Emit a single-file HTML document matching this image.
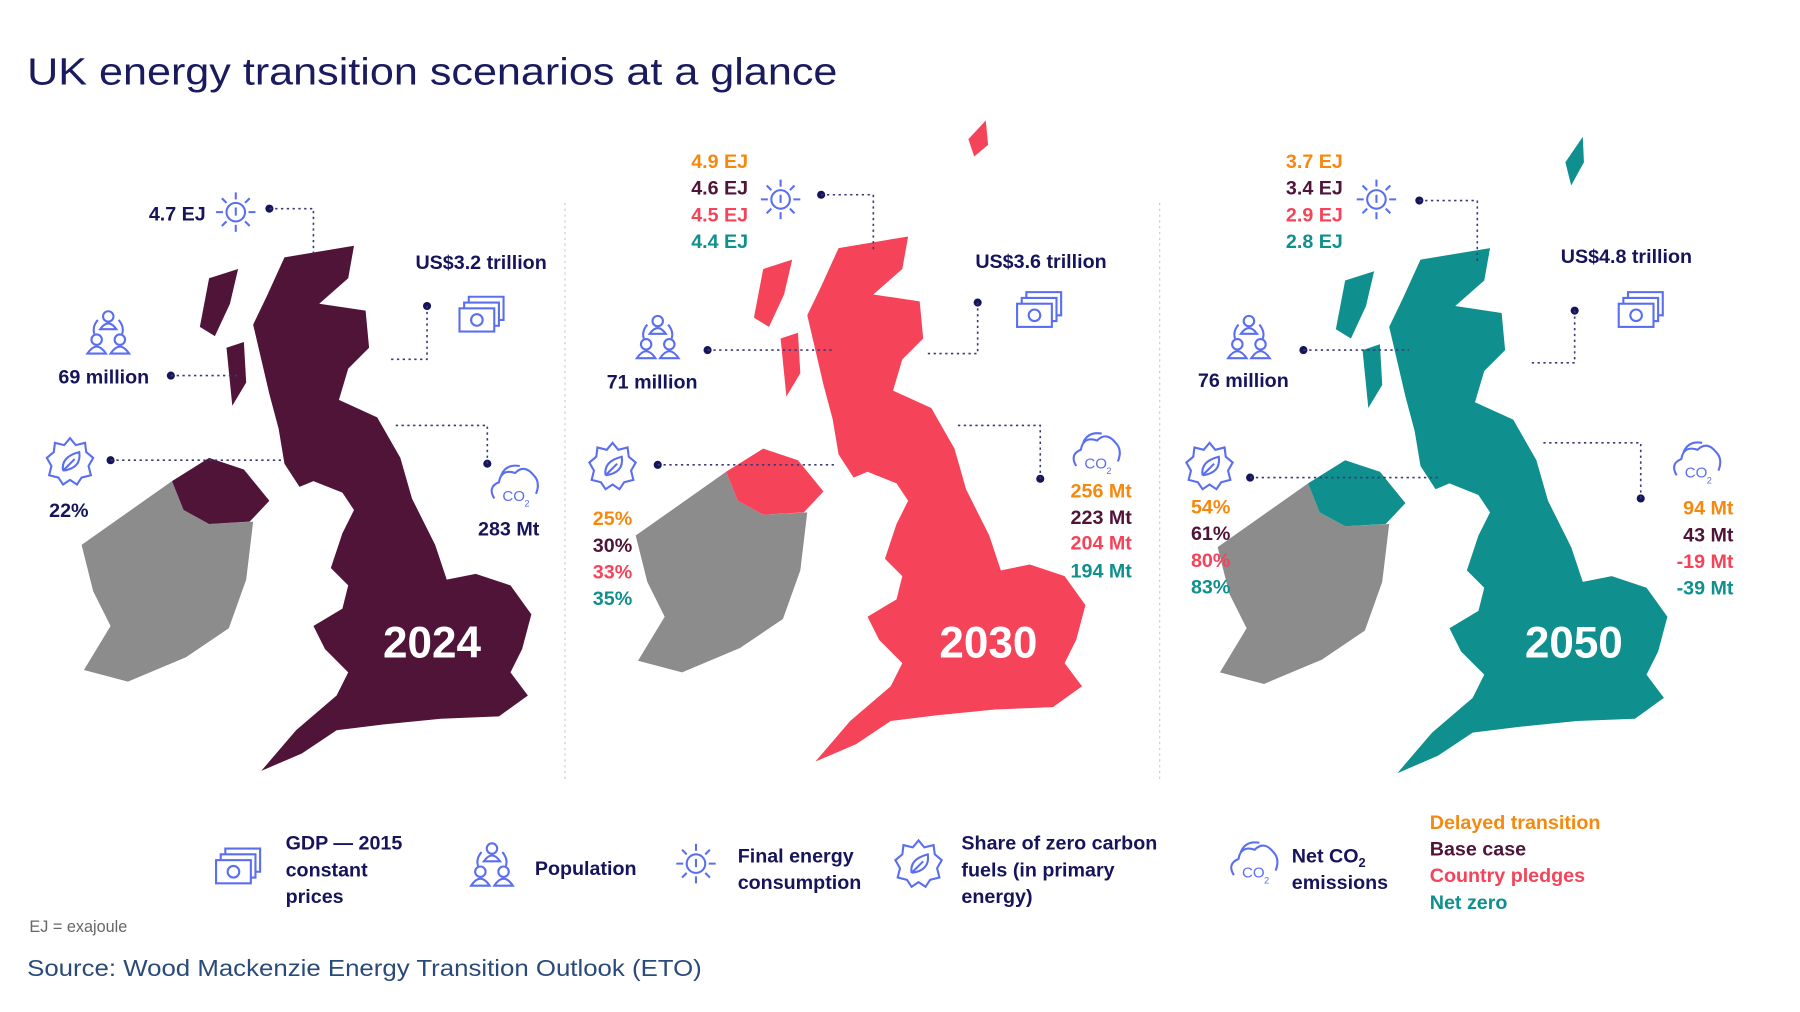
<!DOCTYPE html>
<html><head><meta charset="utf-8"><style>
html,body{margin:0;padding:0;background:#fff;}
svg{display:block;}
text{font-family:"Liberation Sans",sans-serif;}
.b{font-weight:bold;font-size:17px;fill:#16145a;}
.o{fill:#f5890f}.m{fill:#4f1438}.p{fill:#f5445a}.t{fill:#0f8f8e}
.ic{fill:none;stroke:#5a6ef0;stroke-width:1.8;}
.ln{fill:none;stroke:#3a3a7a;stroke-width:1.4;stroke-dasharray:2 3;}
</style></head><body>
<svg width="1800" height="1012" viewBox="0 0 1552 873">
<defs>
<g id="gb">
<path d="M245,222 L305,212 L300,240 L275,262 L315,268 L318,300 L300,318 L292,345 L325,360 L345,395 L355,430 L375,470 L385,500 L410,495 L440,505 L458,530 L450,560 L440,580 L455,600 L430,618 L380,620 L330,625 L290,630 L260,650 L225,665 L255,630 L290,600 L300,580 L280,560 L270,540 L295,525 L300,505 L285,490 L295,460 L305,440 L295,425 L270,415 L258,420 L245,400 L240,370 L232,340 L225,310 L218,280 L230,255 Z"/>
<path d="M148,415 L180,395 L210,405 L232,432 L215,450 L180,452 L158,440 Z"/>
<path d="M180,240 L205,232 L198,262 L185,290 L172,282 Z"/>
<path d="M195,300 L210,295 L212,330 L200,350 Z"/>
</g>
<path id="ie" d="M70,470 L148,415 L158,440 L180,452 L218,450 L212,500 L197,542 L160,567 L110,588 L72,578 L95,540 L80,510 Z"/>
<g id="sun"><circle cx="0" cy="0" r="8" class="ic"/><path class="ic" d="M0,-11V-17M0,11V17M-11,0H-17M11,0H17M8,-8L12,-12M-8,-8L-12,-12M8,8L12,12M-8,8L-12,12M0,-4V3"/></g>
<g id="money"><rect x="-14" y="-6" width="30" height="20" class="ic"/><path class="ic" d="M-10,-6V-11H20V9H16M-6,-11V-16H24V4H20"/><circle cx="1" cy="4" r="5" class="ic"/></g>
<g id="pop"><circle cx="0" cy="-15" r="4.5" class="ic"/><path class="ic" d="M-7,-4 Q0,-14 7,-4Z"/><circle cx="-10" cy="5" r="4.5" class="ic"/><circle cx="10" cy="5" r="4.5" class="ic"/><path class="ic" d="M-18,17 Q-10,5 -2,17Z M2,17 Q10,5 18,17Z M-9,-12 Q-14,-6 -12,0 M9,-12 Q14,-6 12,0"/></g>
<g id="gear"><path class="ic" d="M0,-20 L5,-14 L13,-16 L14,-8 L20,-3 L16,4 L18,12 L10,14 L6,20 L0,16 L-6,20 L-10,14 L-18,12 L-16,4 L-20,-3 L-14,-8 L-13,-16 L-5,-14 Z"/><path class="ic" d="M-6,8 Q-8,-4 8,-8 Q10,6 -6,8 M-6,8 L4,-2"/></g>
<g id="cloud"><path class="ic" d="M-16,10 Q-22,0 -12,-4 Q-10,-16 2,-12 Q10,-20 18,-10 Q24,-4 20,6"/><path class="ic" d="M-10,-10 Q-6,-20 6,-18"/><text x="-9" y="12" font-size="13" fill="#5a6ef0">CO</text><text x="10" y="17" font-size="8" fill="#5a6ef0">2</text></g>
</defs>

<text x="23" y="73" font-size="33" fill="#1a1a5e" textLength="699" lengthAdjust="spacingAndGlyphs">UK energy transition scenarios at a glance</text>

<line x1="487" y1="175" x2="487" y2="672" stroke="#ccc" stroke-dasharray="2 3"/>
<line x1="1000" y1="175" x2="1000" y2="672" stroke="#ccc" stroke-dasharray="2 3"/>

<g>
<use href="#ie" fill="#8c8c8c"/>
<use href="#gb" fill="#4f1438"/>
<text x="330" y="567" font-size="38" font-weight="bold" fill="#fff">2024</text>
<text x="128" y="190" class="b">4.7 EJ</text><use href="#sun" x="203" y="183"/>
<circle cx="232" cy="180" r="3.5" fill="#16145a"/><path class="ln" d="M232,180H270V222"/>
<text x="358" y="232" class="b">US$3.2 trillion</text><use href="#money" x="410" y="272"/>
<circle cx="368" cy="264" r="3.5" fill="#16145a"/><path class="ln" d="M368,264V310H335"/>
<use href="#pop" x="93" y="288"/><text x="50" y="331" class="b">69 million</text>
<circle cx="147" cy="324" r="3.5" fill="#16145a"/><path class="ln" d="M147,324H205"/>
<use href="#gear" x="60" y="398"/><circle cx="95" cy="397" r="3.5" fill="#16145a"/><path class="ln" d="M95,397H245"/>
<text x="42" y="446" class="b">22%</text>
<use href="#cloud" x="442" y="420"/><circle cx="420" cy="400" r="3.5" fill="#16145a"/><path class="ln" d="M420,400V367H340"/>
<text x="412" y="462" class="b">283 Mt</text>
</g>

<g>
<use href="#ie" x="478" y="-8" fill="#8c8c8c"/>
<use href="#gb" x="478" y="-8" fill="#f5445a"/>
<path d="M835,120 L850,104 L852,125 L840,135 Z" fill="#f5445a"/>
<text x="810" y="567" font-size="38" font-weight="bold" fill="#fff">2030</text>
<text x="645" y="145" text-anchor="end" class="b o">4.9 EJ</text>
<text x="645" y="168" text-anchor="end" class="b m">4.6 EJ</text>
<text x="645" y="191" text-anchor="end" class="b p">4.5 EJ</text>
<text x="645" y="214" text-anchor="end" class="b t">4.4 EJ</text>
<use href="#sun" x="673" y="172"/><circle cx="708" cy="168" r="3.5" fill="#16145a"/><path class="ln" d="M708,168H753V215"/>
<text x="841" y="231" class="b">US$3.6 trillion</text><use href="#money" x="891" y="268"/>
<circle cx="843" cy="261" r="3.5" fill="#16145a"/><path class="ln" d="M843,261V305H800"/>
<use href="#pop" x="567" y="292"/><text x="523" y="335" class="b">71 million</text>
<circle cx="610" cy="302" r="3.5" fill="#16145a"/><path class="ln" d="M610,302H720"/>
<use href="#gear" x="528" y="402"/><circle cx="567" cy="401" r="3.5" fill="#16145a"/><path class="ln" d="M567,401H720"/>
<text x="511" y="453" class="b o">25%</text><text x="511" y="476" class="b m">30%</text>
<text x="511" y="499" class="b p">33%</text><text x="511" y="522" class="b t">35%</text>
<use href="#cloud" x="944" y="392"/><circle cx="897" cy="413" r="3.5" fill="#16145a"/><path class="ln" d="M897,413V367H826"/>
<text x="976" y="429" text-anchor="end" class="b o">256 Mt</text>
<text x="976" y="452" text-anchor="end" class="b m">223 Mt</text>
<text x="976" y="474" text-anchor="end" class="b p">204 Mt</text>
<text x="976" y="498" text-anchor="end" class="b t">194 Mt</text>
</g>

<g>
<use href="#ie" x="980" y="2" fill="#8c8c8c"/>
<use href="#gb" x="980" y="2" fill="#0f8f8e"/>
<path d="M1350,140 L1365,118 L1366,140 L1355,160 Z" fill="#0f8f8e"/>
<text x="1315" y="567" font-size="38" font-weight="bold" fill="#fff">2050</text>
<text x="1158" y="145" text-anchor="end" class="b o">3.7 EJ</text>
<text x="1158" y="168" text-anchor="end" class="b m">3.4 EJ</text>
<text x="1158" y="191" text-anchor="end" class="b p">2.9 EJ</text>
<text x="1158" y="214" text-anchor="end" class="b t">2.8 EJ</text>
<use href="#sun" x="1187" y="172"/><circle cx="1224" cy="173" r="3.5" fill="#16145a"/><path class="ln" d="M1224,173H1274V225"/>
<text x="1346" y="227" class="b">US$4.8 trillion</text><use href="#money" x="1410" y="268"/>
<circle cx="1358" cy="268" r="3.5" fill="#16145a"/><path class="ln" d="M1358,268V313H1320"/>
<use href="#pop" x="1077" y="292"/><text x="1033" y="334" class="b">76 million</text>
<circle cx="1124" cy="302" r="3.5" fill="#16145a"/><path class="ln" d="M1124,302H1215"/>
<use href="#gear" x="1043" y="402"/><circle cx="1078" cy="412" r="3.5" fill="#16145a"/><path class="ln" d="M1078,412H1240"/>
<text x="1027" y="443" class="b o">54%</text><text x="1027" y="466" class="b m">61%</text>
<text x="1027" y="489" class="b p">80%</text><text x="1027" y="512" class="b t">83%</text>
<use href="#cloud" x="1462" y="400"/><circle cx="1415" cy="430" r="3.5" fill="#16145a"/><path class="ln" d="M1415,430V382H1330"/>
<text x="1495" y="444" text-anchor="end" class="b o">94 Mt</text>
<text x="1495" y="467" text-anchor="end" class="b m">43 Mt</text>
<text x="1495" y="490" text-anchor="end" class="b p">-19 Mt</text>
<text x="1495" y="513" text-anchor="end" class="b t">-39 Mt</text>
</g>

<g>
<use href="#money" x="200" y="748"/>
<text x="246" y="733" class="b">GDP — 2015</text><text x="246" y="756" class="b">constant</text><text x="246" y="779" class="b">prices</text>
<use href="#pop" x="424" y="747"/><text x="461" y="755" class="b">Population</text>
<use href="#sun" x="600" y="745"/><text x="636" y="744" class="b">Final energy</text><text x="636" y="767" class="b">consumption</text>
<use href="#gear" x="792" y="745"/>
<text x="829" y="733" class="b">Share of zero carbon</text><text x="829" y="756" class="b">fuels (in primary</text><text x="829" y="779" class="b">energy)</text>
<use href="#cloud" x="1080" y="745"/>
<text x="1114" y="744" class="b">Net CO<tspan font-size="11" dy="4">2</tspan></text><text x="1114" y="767" class="b">emissions</text>
<text x="1233" y="715" class="b o">Delayed transition</text>
<text x="1233" y="738" class="b m">Base case</text>
<text x="1233" y="761" class="b p">Country pledges</text>
<text x="1233" y="784" class="b t">Net zero</text>
</g>

<text x="25" y="804" font-size="14" fill="#666">EJ = exajoule</text>
<text x="23" y="842" font-size="20" fill="#2a4a7a" textLength="582" lengthAdjust="spacingAndGlyphs">Source: Wood Mackenzie Energy Transition Outlook (ETO)</text>
</svg>
</body></html>
